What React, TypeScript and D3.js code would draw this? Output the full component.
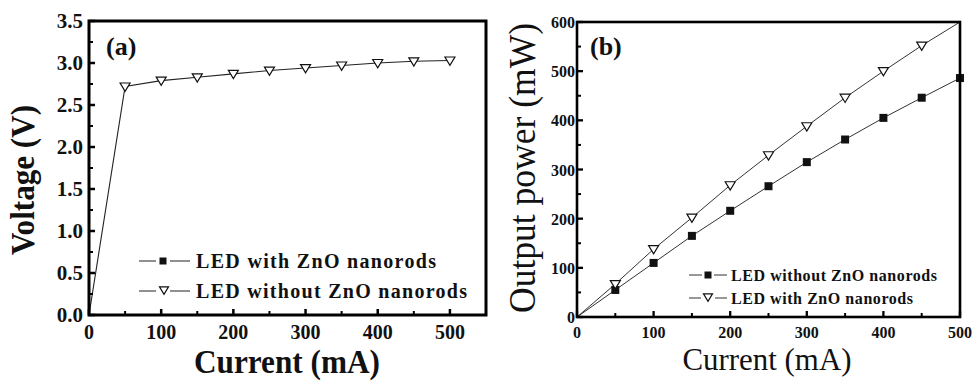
import React from "react";
import * as d3 from "d3";

// current steps (mA)
const currents = [0, 50, 100, 150, 200, 250, 300, 350, 400, 450, 500];
// panel (a): forward voltage (V)
const voltageWithoutZnO = [0, 2.72, 2.79, 2.83, 2.87, 2.91, 2.94, 2.97, 3.0, 3.02, 3.03];
// panel (b): output power (mW)
const powerWithoutZnO = [0, 55, 110, 165, 216, 266, 315, 361, 405, 446, 486];
const powerWithZnO = [0, 67, 138, 202, 268, 329, 388, 446, 500, 552, 600];

const voltTicks = [0, 0.5, 1.0, 1.5, 2.0, 2.5, 3.0, 3.5];
const voltMinor = [0.25, 0.75, 1.25, 1.75, 2.25, 2.75, 3.25];
const powerTicks = [0, 100, 200, 300, 400, 500, 600];
const powerMinor = [50, 150, 250, 350, 450, 550];
const currentTicks = [0, 100, 200, 300, 400, 500];
const currentMinor = [50, 150, 250, 350, 450];

const legendA = ["LED with ZnO nanorods", "LED without ZnO nanorods"];
const legendB = ["LED without ZnO nanorods", "LED with ZnO nanorods"];

const FONT = '"Liberation Serif", Tinos, "Times New Roman", Times, serif';

const triPath = (cx: number, cy: number, s: number) =>
  `M${cx - s},${cy - s * 0.7}L${cx + s},${cy - s * 0.7}L${cx},${cy + s * 0.95}Z`;

function Tri({ x, y, s = 5 }: { x: number; y: number; s?: number }) {
  return <path d={triPath(x, y, s)} fill="#fff" stroke="#111" strokeWidth={1.2} />;
}

function Sq({ x, y, s = 4 }: { x: number; y: number; s?: number }) {
  return <rect x={x - s} y={y - s} width={s * 2} height={s * 2} fill="#111" />;
}

function PanelA() {
  const x = d3.scaleLinear().domain([0, 550]).range([89, 486]);
  const y = d3.scaleLinear().domain([0, 3.5]).range([315, 21]);
  const pts = currents.map((c, i) => [x(c), y(voltageWithoutZnO[i])] as [number, number]);
  const line = d3.line();
  return (
    <g style={{ fontFamily: FONT }} fill="#111">
      <path d={line(pts) ?? ""} fill="none" stroke="#222" strokeWidth={1.1} />
      {pts.slice(1).map((p, i) => (
        <Tri key={i} x={p[0]} y={p[1]} s={5} />
      ))}
      <rect x={89} y={21} width={397} height={294} fill="none" stroke="#000" strokeWidth={3} />
      {voltTicks.map((t) => (
        <g key={t}>
          <line x1={89} x2={95} y1={y(t)} y2={y(t)} stroke="#000" strokeWidth={2.5} />
          <text x={83} y={y(t) + 7} textAnchor="end" fontSize={21} fontWeight="bold">
            {t.toFixed(1)}
          </text>
        </g>
      ))}
      {voltMinor.map((t) => (
        <line key={t} x1={89} x2={93} y1={y(t)} y2={y(t)} stroke="#000" strokeWidth={2} />
      ))}
      {currentTicks.map((t) => (
        <g key={t}>
          <line x1={x(t)} x2={x(t)} y1={315} y2={309} stroke="#000" strokeWidth={2.5} />
          <text x={x(t)} y={339} textAnchor="middle" fontSize={20} fontWeight="bold">
            {t}
          </text>
        </g>
      ))}
      {currentMinor.map((t) => (
        <line key={t} x1={x(t)} x2={x(t)} y1={315} y2={311} stroke="#000" strokeWidth={2} />
      ))}
      <text x={106} y={55} fontSize={26} fontWeight="bold">(a)</text>
      {/* legend */}
      <line x1={139} x2={190} y1={261} y2={261} stroke="#222" strokeWidth={1.2} />
      <rect x={156} y={256} width={14} height={10} fill="#fff" />
      <Sq x={163} y={261} s={3.5} />
      <text x={196} y={268} fontSize={20} fontWeight="bold" textLength={240} lengthAdjust="spacing">
        {legendA[0]}
      </text>
      <line x1={139} x2={190} y1={291} y2={291} stroke="#222" strokeWidth={1.2} />
      <rect x={156} y={285} width={14} height={12} fill="#fff" />
      <Tri x={164} y={290} s={4.5} />
      <text x={196} y={298} fontSize={20} fontWeight="bold" textLength={271} lengthAdjust="spacing">
        {legendA[1]}
      </text>
      <text
        transform="translate(34,180) rotate(-90)"
        textAnchor="middle"
        fontSize={33}
        fontWeight="bold"
        textLength={150}
        lengthAdjust="spacingAndGlyphs"
      >
        Voltage (V)
      </text>
      <text x={287} y={373} textAnchor="middle" fontSize={34} fontWeight="bold" textLength={186} lengthAdjust="spacingAndGlyphs">
        Current (mA)
      </text>
    </g>
  );
}

function PanelB() {
  const x = d3.scaleLinear().domain([0, 500]).range([577, 960]);
  const y = d3.scaleLinear().domain([0, 600]).range([317, 22]);
  const line = d3.line();
  const sqPts = currents.map((c, i) => [x(c), y(powerWithoutZnO[i])] as [number, number]);
  const triPts = currents.map((c, i) => [x(c), y(powerWithZnO[i])] as [number, number]);
  return (
    <g style={{ fontFamily: FONT }} fill="#111">
      <path d={line(sqPts) ?? ""} fill="none" stroke="#333" strokeWidth={1} />
      <path d={line(triPts) ?? ""} fill="none" stroke="#333" strokeWidth={1} />
      {sqPts.slice(1).map((p, i) => (
        <Sq key={i} x={p[0]} y={p[1]} s={4} />
      ))}
      {triPts.slice(1, -1).map((p, i) => (
        <Tri key={i} x={p[0]} y={p[1]} s={5} />
      ))}
      <rect x={577} y={22} width={383} height={295} fill="none" stroke="#000" strokeWidth={2.6} />
      {powerTicks.map((t) => (
        <g key={t}>
          <line x1={577} x2={583} y1={y(t)} y2={y(t)} stroke="#000" strokeWidth={2.3} />
          <text x={575} y={y(t) + 6} textAnchor="end" fontSize={16} fontWeight="bold">
            {t}
          </text>
        </g>
      ))}
      {powerMinor.map((t) => (
        <line key={t} x1={577} x2={581} y1={y(t)} y2={y(t)} stroke="#000" strokeWidth={2} />
      ))}
      {currentTicks.map((t) => (
        <g key={t}>
          <line x1={x(t)} x2={x(t)} y1={317} y2={311} stroke="#000" strokeWidth={2.3} />
          <text x={x(t)} y={338} textAnchor="middle" fontSize={16} fontWeight="bold">
            {t}
          </text>
        </g>
      ))}
      {currentMinor.map((t) => (
        <line key={t} x1={x(t)} x2={x(t)} y1={317} y2={313} stroke="#000" strokeWidth={2} />
      ))}
      <text x={590} y={55} fontSize={26} fontWeight="bold">(b)</text>
      {/* legend */}
      <line x1={689} x2={727} y1={275} y2={275} stroke="#333" strokeWidth={1.1} />
      <rect x={702} y={270} width={12} height={10} fill="#fff" />
      <Sq x={708} y={275} s={3.5} />
      <text x={731} y={281} fontSize={16} fontWeight="bold" textLength={206} lengthAdjust="spacing">
        {legendB[0]}
      </text>
      <line x1={689} x2={727} y1={298} y2={298} stroke="#333" strokeWidth={1.1} />
      <rect x={701} y={292} width={14} height={12} fill="#fff" />
      <Tri x={708} y={297} s={4.5} />
      <text x={731} y={304} fontSize={16} fontWeight="bold" textLength={182} lengthAdjust="spacing">
        {legendB[1]}
      </text>
      <text
        transform="translate(535,168) rotate(-90)"
        textAnchor="middle"
        fontSize={37}
        textLength={290}
        lengthAdjust="spacingAndGlyphs"
      >
        Output power (mW)
      </text>
      <text x={767} y={370} textAnchor="middle" fontSize={31} textLength={169} lengthAdjust="spacingAndGlyphs">
        Current (mA)
      </text>
    </g>
  );
}

export default function App() {
  return (
    <svg
      width={972}
      height={381}
      style={{ position: "absolute", left: 0, top: 0, background: "#fff" }}
    >
      <rect width={972} height={381} fill="#fff" />
      <PanelA />
      <PanelB />
    </svg>
  );
}
